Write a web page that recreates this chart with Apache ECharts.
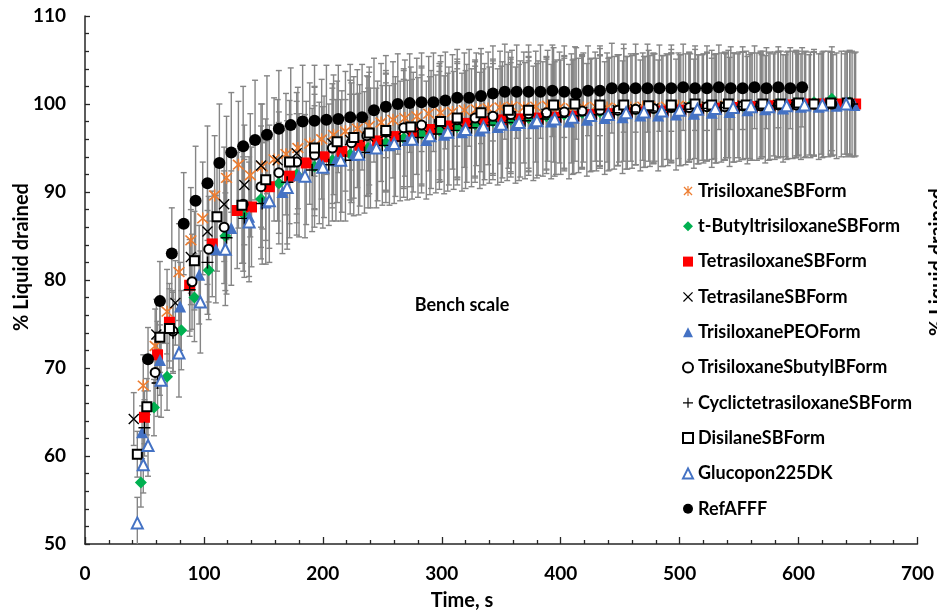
<!DOCTYPE html>
<html><head><meta charset="utf-8">
<script src="https://cdn.jsdelivr.net/npm/echarts@6/dist/echarts.min.js"></script>
<style>html,body{margin:0;padding:0;background:#fff}#c{width:937px;height:614px}</style>
</head><body><div id="c"></div>
<script>
// ---- data: [time s, % liquid drained, error] ----
const seriesNames = ['TrisiloxaneSBForm','t-ButyltrisiloxaneSBForm','TetrasiloxaneSBForm','TetrasilaneSBForm','TrisiloxanePEOForm','TrisiloxaneSbutylBForm','CyclictetrasiloxaneSBForm','DisilaneSBForm','Glucopon225DK','RefAFFF'];
const xRange = [0, 700, 100];
const yRange = [50, 110, 10];
const annotation = 'Bench scale';
const xTitle = 'Time, s';
const yTitle = '% Liquid drained';

const trisiloxaneSB = [[49,68.0,3.5],[59,72.5,4.2],[69,76.4,4.8],[79,80.9,5.5],[89,84.5,6.0],[99,87.0,6.4],[109,89.6,6.8],[119,91.6,7.0],[129,93.1,7.2],[139,91.9,7.0],[149,92.9,7.1],[159,93.7,7.0],[169,94.3,6.9],[179,95.0,6.9],[189,95.5,6.9],[199,96.0,6.8],[209,96.5,6.8],[219,96.9,6.8],[229,97.2,6.7],[239,97.5,6.7],[249,97.9,6.7],[259,98.2,6.6],[269,98.4,6.6],[279,98.6,6.6],[289,98.9,6.5],[299,99.0,6.5],[309,99.1,6.5],[319,99.3,6.5],[329,99.4,6.4],[339,99.5,6.4],[349,99.6,6.4],[359,99.7,6.4],[369,99.6,6.3],[379,99.7,6.3],[389,99.8,6.3],[399,99.6,6.3],[409,99.5,6.2],[419,99.6,6.2],[429,99.7,6.2],[439,99.6,6.2],[449,99.5,6.1],[459,99.6,6.1],[469,99.7,6.1],[479,99.6,6.1],[489,99.7,6.0],[499,99.8,6.0],[509,99.7,6.0],[519,99.6,6.0],[529,99.7,5.9],[539,99.8,5.9],[549,99.8,5.9],[559,99.7,5.9],[569,99.8,5.8],[579,99.9,5.8],[589,99.8,5.8],[599,99.9,5.8],[609,99.9,5.7],[619,100.0,5.7],[629,99.9,5.7],[639,100.0,5.7]];

const tButylSB = [[47,57.0,2.8],[58,65.5,3.2],[69,69.0,3.8],[81,74.3,4.5],[92,78.0,5.0],[104,81.1,5.6],[118,85.0,6.2],[133,87.5,6.5],[148,89.2,6.8],[163,91.0,6.9],[178,92.0,6.9],[193,92.9,6.9],[208,93.6,6.9],[223,94.3,6.8],[238,95.0,6.8],[253,95.6,6.8],[268,96.1,6.7],[283,96.6,6.7],[298,97.0,6.7],[313,97.4,6.6],[328,97.7,6.6],[343,98.0,6.6],[358,98.2,6.5],[373,98.4,6.5],[388,98.6,6.5],[403,98.8,6.4],[418,99.0,6.4],[433,99.1,6.4],[448,99.3,6.3],[463,99.4,6.3],[478,99.5,6.3],[493,99.6,6.2],[508,99.7,6.2],[523,99.7,6.2],[538,99.8,6.1],[553,99.8,6.1],[568,99.9,6.1],[583,100.0,6.0],[598,100.1,6.0],[613,100.2,6.0],[628,100.6,5.9],[643,100.2,5.9]];

const tetrasiloxaneSB = [[50,64.4,3.0],[61,71.5,3.8],[71,75.2,4.4],[88,79.4,5.2],[107,84.1,6.0],[128,87.9,6.6],[140,88.3,6.8],[155,90.6,7.0],[172,91.8,7.0],[186,93.3,7.0],[201,94.0,6.9],[216,94.6,6.9],[231,95.3,6.9],[246,95.8,6.8],[261,96.3,6.8],[276,96.8,6.8],[291,97.1,6.7],[306,97.5,6.7],[321,97.8,6.7],[336,98.0,6.6],[351,98.2,6.6],[366,98.3,6.6],[381,98.4,6.5],[396,98.5,6.5],[411,98.6,6.5],[426,98.8,6.4],[441,98.9,6.4],[456,99.0,6.4],[471,99.1,6.3],[486,99.2,6.3],[501,99.3,6.3],[516,99.4,6.2],[531,99.5,6.2],[546,99.6,6.2],[561,99.7,6.1],[576,99.8,6.1],[591,99.9,6.1],[606,100.0,6.0],[621,100.0,6.0],[636,100.0,6.0],[648,100.0,5.9]];

const tetrasilaneSB = [[41,64.2,3.0],[60,73.8,4.0],[76,77.4,4.8],[89,82.6,5.4],[103,85.5,6.0],[117,88.6,6.5],[134,90.8,6.8],[148,93.0,7.0],[162,93.6,6.9],[178,94.4,6.9],[193,95.0,6.9],[208,95.5,6.8],[223,95.9,6.8],[238,96.3,6.8],[253,96.7,6.7],[268,97.1,6.7],[283,97.4,6.7],[298,97.7,6.6],[313,98.0,6.6],[328,98.2,6.6],[343,98.4,6.5],[358,98.6,6.5],[373,98.8,6.5],[388,98.9,6.4],[403,99.0,6.4],[418,99.1,6.4],[433,99.2,6.3],[448,99.3,6.3],[463,99.4,6.3],[478,99.5,6.2],[493,99.5,6.2],[508,99.6,6.2],[523,99.7,6.1],[538,99.7,6.1],[553,99.8,6.1],[568,99.8,6.0],[583,99.9,6.0],[598,99.9,6.0],[613,100.0,5.9],[628,100.0,5.9],[643,100.0,5.9]];

const trisiloxanePEO = [[48,62.7,3.0],[63,70.9,4.0],[80,77.0,5.0],[96,80.6,5.6],[110,83.5,6.1],[123,85.9,6.5],[138,87.2,6.8],[152,88.8,7.0],[166,90.0,7.0],[180,91.9,7.0],[197,93.3,6.9],[211,93.6,6.9],[226,94.2,6.9],[240,95.0,6.8],[256,95.3,6.8],[271,95.9,6.8],[287,95.9,6.7],[302,96.5,6.7],[317,96.8,6.7],[332,97.0,6.6],[347,97.4,6.6],[362,97.6,6.6],[377,97.8,6.5],[392,98.0,6.5],[407,98.0,6.5],[422,98.2,6.4],[437,98.4,6.4],[452,98.5,6.4],[467,98.7,6.3],[482,98.7,6.3],[497,98.8,6.3],[512,98.9,6.2],[527,99.0,6.2],[542,99.1,6.2],[557,99.3,6.1],[572,99.4,6.1],[587,99.5,6.1],[602,99.7,6.0],[617,99.7,6.0],[632,99.8,6.0],[647,99.9,5.9]];

const trisiloxaneSbutylB = [[59,69.5,3.8],[74,74.2,4.6],[90,79.8,5.4],[104,83.5,6.0],[117,86.0,6.4],[133,88.6,6.7],[148,90.6,6.9],[163,92.2,6.9],[178,93.4,6.9],[193,94.2,6.9],[208,95.0,6.8],[224,95.6,6.8],[237,96.4,6.8],[253,96.8,6.7],[268,97.3,6.7],[283,97.6,6.7],[298,98.0,6.6],[313,98.2,6.6],[328,98.4,6.6],[343,98.6,6.5],[358,98.8,6.5],[373,98.9,6.5],[388,99.0,6.4],[403,99.1,6.4],[418,99.2,6.4],[433,99.3,6.3],[448,99.3,6.3],[463,99.4,6.3],[478,99.5,6.2],[493,99.6,6.2],[508,99.6,6.2],[523,99.7,6.1],[538,99.7,6.1],[553,99.8,6.1],[568,99.8,6.0],[583,99.9,6.0],[598,99.9,6.0],[613,100.0,5.9],[628,100.0,5.9],[643,100.1,5.9]];

const cyclictetrasiloxaneSB = [[50,63.2,3.2],[61,68.3,3.8],[74,74.0,4.6],[88,78.9,5.3],[103,82.0,5.9],[119,84.8,6.4],[134,87.0,6.7],[149,88.7,6.9],[170,91.1,7.0],[191,92.5,7.0],[205,93.1,6.9],[219,93.6,6.9],[235,94.5,6.9],[250,95.3,6.8],[265,95.8,6.8],[280,96.2,6.8],[295,96.6,6.7],[310,97.0,6.7],[325,97.3,6.7],[340,97.6,6.6],[355,97.9,6.6],[370,98.1,6.6],[385,98.3,6.5],[400,98.5,6.5],[415,98.7,6.5],[430,98.8,6.4],[445,99.0,6.4],[460,99.1,6.4],[475,99.2,6.3],[490,99.3,6.3],[505,99.4,6.3],[520,99.5,6.2],[535,99.6,6.2],[550,99.7,6.2],[565,99.7,6.1],[580,99.8,6.1],[595,99.9,6.1],[610,99.9,6.0],[625,100.0,6.0],[645,100.0,6.0]];

const disilaneSB = [[44,60.2,2.6],[52,65.6,3.2],[63,73.5,4.0],[71,74.5,4.5],[92,82.2,5.6],[111,87.2,6.2],[132,88.5,6.6],[152,91.4,6.9],[172,93.4,7.0],[193,95.0,7.0],[212,95.7,6.9],[226,96.2,6.9],[239,96.7,6.9],[253,97.0,6.8],[274,97.4,6.8],[299,98.0,6.8],[313,98.4,6.7],[333,99.0,6.7],[356,99.3,6.6],[373,99.3,6.6],[394,99.9,6.5],[412,100.0,6.5],[433,99.9,6.4],[453,99.9,6.4],[474,99.8,6.3],[493,99.9,6.3],[513,100.0,6.2],[527,99.9,6.2],[541,100.0,6.1],[556,99.9,6.1],[570,100.0,6.0],[585,100.0,6.0],[600,100.1,5.9],[613,100.0,5.9],[627,100.1,5.8],[641,100.1,5.8]];

const glucopon225DK = [[44,52.4,2.9],[49,59.0,3.2],[53,61.2,3.5],[64,68.6,4.2],[79,71.7,5.0],[97,77.5,5.8],[118,83.5,6.4],[138,86.6,6.8],[155,89.0,7.0],[170,90.5,7.0],[185,91.8,7.0],[200,92.8,6.9],[215,93.6,6.9],[230,94.3,6.9],[245,95.0,6.8],[260,95.5,6.8],[275,96.0,6.8],[290,96.4,6.7],[305,96.8,6.7],[320,97.1,6.7],[335,97.4,6.6],[350,97.7,6.6],[365,97.9,6.6],[380,98.1,6.5],[395,98.3,6.5],[410,98.5,6.5],[425,98.7,6.4],[440,98.8,6.4],[455,99.0,6.4],[470,99.1,6.3],[485,99.2,6.3],[500,99.3,6.3],[515,99.4,6.2],[530,99.5,6.2],[545,99.6,6.2],[560,99.7,6.1],[575,99.7,6.1],[590,99.8,6.1],[605,99.9,6.0],[620,99.9,6.0],[640,100.0,6.0]];

const refAFFF = [[53,71.0,3.6],[63,77.6,4.5],[73,83.0,5.2],[83,86.4,5.8],[93,89.0,6.2],[103,91.0,6.5],[113,93.3,6.7],[123,94.5,6.8],[133,95.2,6.8],[143,95.9,6.8],[153,96.5,6.7],[163,97.2,6.6],[173,97.6,6.5],[183,98.0,6.4],[193,98.1,6.3],[203,98.2,6.2],[213,98.3,6.1],[223,98.5,6.0],[233,98.5,6.0],[243,99.3,5.9],[253,99.7,5.8],[263,100.0,5.7],[273,100.1,5.6],[283,100.2,5.6],[293,100.2,5.6],[303,100.4,5.5],[313,100.7,5.5],[323,100.7,5.5],[333,100.9,5.4],[343,101.2,5.4],[353,101.4,5.4],[363,101.4,5.3],[373,101.4,5.3],[383,101.4,5.3],[393,101.5,5.2],[403,101.4,5.2],[413,101.2,5.2],[423,101.5,5.1],[433,101.5,5.1],[443,101.8,5.1],[453,101.8,5.0],[463,101.8,5.0],[473,101.8,5.0],[483,101.8,4.9],[493,101.8,4.9],[503,101.9,4.9],[513,101.8,4.8],[523,101.8,4.8],[533,101.9,4.8],[543,101.8,4.7],[553,101.8,4.7],[563,101.9,4.7],[573,101.8,4.6],[583,101.9,4.6],[593,101.8,4.6],[603,101.9,4.5]];

// ---- styling ----
const FONT = 'Lato, "Liberation Sans", sans-serif';
const P_AST = 'path://M8.9 0L11.1 0L11.1 20L8.9 20Z M1 2.8L2.8 1L19 17.2L17.2 19Z M17.2 1L19 2.8L2.8 19L1 17.2Z';
const P_X = 'path://M1 2.6L2.6 1L19 17.4L17.4 19Z M17.4 1L19 2.6L2.6 19L1 17.4Z';
const P_PLUS = 'path://M8.8 0L11.2 0L11.2 20L8.8 20Z M0 8.8L20 8.8L20 11.2L0 11.2Z';

const defs = [
  {data: trisiloxaneSB, symbol: P_AST, size: 12, color: '#ED7D31'},
  {data: tButylSB, symbol: 'diamond', size: 12, color: '#00B050'},
  {data: tetrasiloxaneSB, symbol: 'rect', size: 11, color: '#FF0000'},
  {data: tetrasilaneSB, symbol: P_X, size: 11, color: '#000000'},
  {data: trisiloxanePEO, symbol: 'triangle', size: 12, color: '#4472C4'},
  {data: trisiloxaneSbutylB, symbol: 'emptyCircle', size: 9, color: '#000000', bw: 1.6},
  {data: cyclictetrasiloxaneSB, symbol: P_PLUS, size: 12, color: '#000000'},
  {data: disilaneSB, symbol: 'emptyRect', size: 9, color: '#000000', bw: 1.6},
  {data: glucopon225DK, symbol: 'emptyTriangle', size: 11, color: '#4472C4', bw: 1.5},
  {data: refAFFF, symbol: 'circle', size: 12, color: '#000000'}
];

function errSeries(name, data) {
  return {
    type: 'custom', name: name + ' err', data: data, encode: {x: 0, y: 1},
    clip: true, silent: true,
    renderItem: function (params, api) {
      const t = api.value(0), v = api.value(1), e = api.value(2);
      const top = api.coord([t, v + e]), bot = api.coord([t, v - e]);
      const hw = 3;
      const style = {stroke: '#858585', lineWidth: 1.4};
      return {type: 'group', children: [
        {type: 'line', shape: {x1: top[0], y1: top[1], x2: bot[0], y2: bot[1]}, style: style},
        {type: 'line', shape: {x1: top[0] - hw, y1: top[1], x2: top[0] + hw, y2: top[1]}, style: style},
        {type: 'line', shape: {x1: bot[0] - hw, y1: bot[1], x2: bot[0] + hw, y2: bot[1]}, style: style}
      ]};
    }
  };
}

const series = [];
defs.forEach(function (d, i) {
  series.push(errSeries(seriesNames[i], d.data));
  series.push({
    type: 'scatter', name: seriesNames[i], data: d.data, encode: {x: 0, y: 1},
    symbol: d.symbol, symbolSize: d.size,
    itemStyle: {color: d.color, borderWidth: d.bw || 0, opacity: 1},
    emphasis: {disabled: true}
  });
});

const chart = echarts.init(document.getElementById('c'), null, {renderer: 'canvas'});
chart.setOption({
  animation: false,
  backgroundColor: '#ffffff',
  grid: {left: 85, right: 17, top: 16, bottom: 70, containLabel: false},
  xAxis: {
    type: 'value', min: xRange[0], max: xRange[1], interval: xRange[2],
    axisLine: {lineStyle: {color: '#262626', width: 1.5}},
    axisTick: {inside: true, length: 7, lineStyle: {color: '#262626', width: 1.3}},
    minorTick: {show: true, splitNumber: 5, length: 4, lineStyle: {color: '#262626', width: 1.3}},
    splitLine: {show: false},
    axisLabel: {margin: 20, color: '#000', fontFamily: FONT, fontWeight: 'bold', fontSize: 19}
  },
  yAxis: {
    type: 'value', min: yRange[0], max: yRange[1], interval: yRange[2],
    axisLine: {show: true, lineStyle: {color: '#262626', width: 1.5}},
    axisTick: {show: true, inside: true, length: 5, lineStyle: {color: '#262626', width: 1.3}},
    minorTick: {show: true, splitNumber: 5, length: 4, lineStyle: {color: '#262626', width: 1.3}},
    splitLine: {show: false},
    axisLabel: {margin: 19, color: '#000', fontFamily: FONT, fontWeight: 'bold', fontSize: 19}
  },
  legend: {
    orient: 'vertical', left: 677, top: 177, itemWidth: 10, itemHeight: 10, itemGap: 17.3,
    selectedMode: false, data: seriesNames,
    textStyle: {color: '#000', fontFamily: FONT, fontWeight: 'bold', fontSize: 18, lineHeight: 18}
  },
  graphic: [
    {type: 'text', x: 462, y: 305, style: {text: annotation, fill: '#000', font: 'bold 18px ' + FONT, textAlign: 'center', textVerticalAlign: 'middle'}},
    {type: 'text', x: 462, y: 601, style: {text: xTitle, fill: '#000', font: 'bold 20px ' + FONT, textAlign: 'center', textVerticalAlign: 'middle'}},
    {type: 'text', x: 22, y: 257, rotation: Math.PI / 2, style: {text: yTitle, fill: '#000', font: 'bold 20px ' + FONT, textAlign: 'center', textVerticalAlign: 'middle'}},
    {type: 'text', x: 938, y: 262, rotation: Math.PI / 2, style: {text: yTitle, fill: '#000', font: 'bold 20px ' + FONT, textAlign: 'center', textVerticalAlign: 'middle'}}
  ],
  series: series
});
</script>
</body></html>
